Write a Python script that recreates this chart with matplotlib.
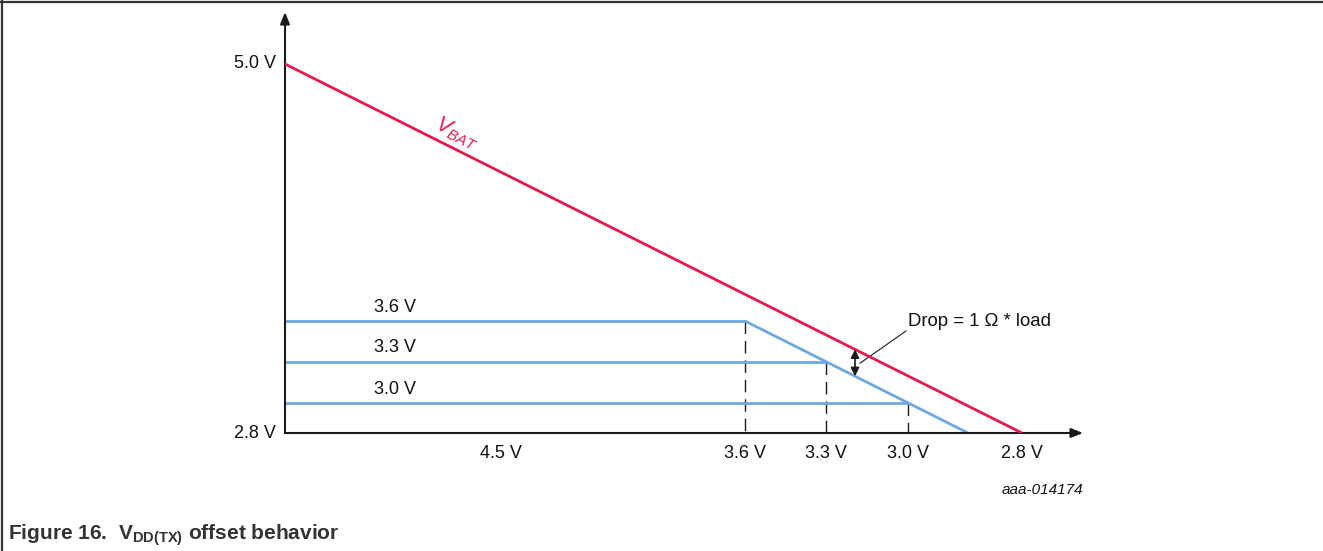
import matplotlib
matplotlib.use("Agg")
import matplotlib.pyplot as plt
from matplotlib.lines import Line2D
import numpy as np

plt.rcParams['font.family'] = ['Liberation Sans', 'DejaVu Sans']
plt.rcParams['mathtext.fontset'] = 'custom'
plt.rcParams['mathtext.rm'] = 'Liberation Sans'
plt.rcParams['mathtext.it'] = 'Liberation Sans:italic'
plt.rcParams['mathtext.bf'] = 'Liberation Sans:bold'

# ---- schematic data (diagram units, not to scale) ----
y_axis_labels = ["5.0 V", "2.8 V"]
y_axis_label_pos = [369, 0]
vbat_x = [0, 737]
vbat_y = [369, 0]
reg_labels = ["3.6 V", "3.3 V", "3.0 V"]
reg_level = [112, 71, 30]
reg_knee = [460, 541, 623]
dropout_end_x = 683
x_tick_labels = ["4.5 V", "3.6 V", "3.3 V", "3.0 V", "2.8 V"]
x_tick_pos = [216, 460, 541, 623, 737]
drop_x = 570
drop_text = "Drop = 1 Ω * load"
figure_id = "aaa-014174"

RED = "#E8194F"
BLUE = "#6EA8DE"
AX = "#1a1a1a"
FS = 13

W, H = 1323, 551
fig = plt.figure(figsize=(W / 100, H / 100), dpi=100)
# plot area: origin at pixel (285, 433), arrow tips at x=1085, y=12
ax = fig.add_axes([285 / W, (H - 433) / H, 800 / W, 421 / H])
ax.set_xlim(0, 800)
ax.set_ylim(0, 421)
ax.axis('off')

# axes with arrows
ax.annotate("", xy=(0, 421), xytext=(0, 0),
            arrowprops=dict(arrowstyle='-|>,head_length=0.7,head_width=0.28', lw=1.5,
                            color=AX, shrinkA=0, shrinkB=0), annotation_clip=False)
ax.annotate("", xy=(798, 0), xytext=(0, 0),
            arrowprops=dict(arrowstyle='-|>,head_length=0.7,head_width=0.28', lw=1.5,
                            color=AX, shrinkA=0, shrinkB=0), annotation_clip=False)

# VBAT line
ax.plot(vbat_x, vbat_y, color=RED, lw=2.0, solid_capstyle='butt', zorder=3)

# regulated output lines
for lab, lvl, kx in zip(reg_labels, reg_level, reg_knee):
    ax.plot([0, kx], [lvl, lvl], color=BLUE, lw=2.0, solid_capstyle='butt', zorder=2)
    ax.plot([kx, kx], [lvl, 0], color=AX, lw=1.0, ls=(0, (9, 5)), zorder=1)
    ax.text(110, lvl + 14, lab, fontsize=FS, ha='center', va='center', color='#111')
# dropout slope
ax.plot([reg_knee[0], dropout_end_x], [reg_level[0], 0], color=BLUE, lw=2.0,
        solid_capstyle='butt', zorder=2)

# y labels
for lab, yp in zip(y_axis_labels, y_axis_label_pos):
    ax.text(-9, yp, lab, fontsize=FS, ha='right', va='center', color='#111')
# x labels
for lab, xp in zip(x_tick_labels, x_tick_pos):
    ax.text(xp, -20, lab, fontsize=FS, ha='center', va='center', color='#111')

# VBAT label, rotated along the line
p0 = ax.transData.transform((vbat_x[0], vbat_y[0]))
p1 = ax.transData.transform((vbat_x[1], vbat_y[1]))
ang = np.degrees(np.arctan2(p1[1] - p0[1], p1[0] - p0[0]))
ax.text(172, 300, r"$\mathit{V}_{\mathit{BAT}}$", fontsize=15.5, color=RED,
        rotation=ang, rotation_mode='anchor', ha='center', va='center')

# drop annotation
slope_r = (vbat_y[1] - vbat_y[0]) / (vbat_x[1] - vbat_x[0])
slope_b = (0 - reg_level[0]) / (dropout_end_x - reg_knee[0])
yr = vbat_y[0] + slope_r * (drop_x - vbat_x[0])
yb = reg_level[0] + slope_b * (drop_x - reg_knee[0])
ax.annotate("", xy=(drop_x, yr), xytext=(drop_x, yb),
            arrowprops=dict(arrowstyle='<|-|>,head_length=0.5,head_width=0.25', lw=1.2,
                            color=AX, shrinkA=0, shrinkB=0))
ax.plot([drop_x + 5, 621], [yb + 13, 102], color=AX, lw=0.8)
ax.text(623, 112, drop_text, fontsize=13.4, ha='left', va='center', color='#111')

# figure id
fig.text(1083 / W, 1 - 490 / H, figure_id, fontsize=11, style='italic',
         ha='right', va='center', color='#111')

# caption
fig.text(8 / W, 1 - 535 / H, r"Figure 16.  V$_{\mathbf{DD(TX)}}$ offset behavior",
         fontsize=15, fontweight='bold', ha='left', va='center', color='#333')

# frame (top and left)
fig.add_artist(Line2D([0, 1], [1 - 1.5 / H, 1 - 1.5 / H], transform=fig.transFigure,
                      color='#333', lw=1.6))
fig.add_artist(Line2D([2 / W, 2 / W], [0, 1], transform=fig.transFigure,
                      color='#333', lw=1.6))

fig.savefig("out.png", dpi=100)
